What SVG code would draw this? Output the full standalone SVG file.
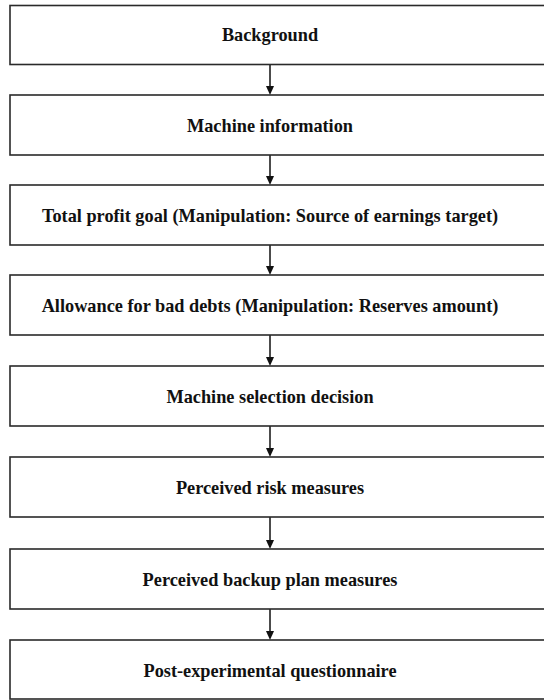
<svg xmlns="http://www.w3.org/2000/svg" width="544" height="700" viewBox="0 0 544 700">
<defs>
<style>
.box{fill:#fff;stroke:#2a2a2a;stroke-width:1.6}
.lbl{font-family:"Liberation Serif","Times New Roman",serif;font-weight:bold;font-size:18.3px;fill:#111;text-anchor:middle}
.con{stroke:#111;stroke-width:1.5;fill:none}
</style>
</defs>
<rect width="544" height="700" fill="#fff"/>
<g id="connectors">
<line class="con" x1="270" y1="64.5" x2="270" y2="88"/>
<line class="con" x1="270" y1="155" x2="270" y2="178"/>
<line class="con" x1="270" y1="245" x2="270" y2="268"/>
<line class="con" x1="270" y1="335" x2="270" y2="359"/>
<line class="con" x1="270" y1="426" x2="270" y2="450"/>
<line class="con" x1="270" y1="517" x2="270" y2="542"/>
<line class="con" x1="270" y1="609" x2="270" y2="633"/>
<path d="M266,86 L274,86 L270,95 Z" fill="#111"/>
<path d="M266,176 L274,176 L270,185 Z" fill="#111"/>
<path d="M266,266 L274,266 L270,275 Z" fill="#111"/>
<path d="M266,357 L274,357 L270,366 Z" fill="#111"/>
<path d="M266,448 L274,448 L270,457 Z" fill="#111"/>
<path d="M266,540 L274,540 L270,549 Z" fill="#111"/>
<path d="M266,631 L274,631 L270,640 Z" fill="#111"/>
</g>
<g id="n1"><rect class="box" x="10" y="5.5" width="545" height="59"/><text class="lbl" x="270" y="41">Background</text></g>
<g id="n2"><rect class="box" x="10" y="95" width="545" height="60"/><text class="lbl" x="270" y="132">Machine information</text></g>
<g id="n3"><rect class="box" x="10" y="185" width="545" height="60"/><text class="lbl" x="270" y="222">Total profit goal (Manipulation: Source of earnings target)</text></g>
<g id="n4"><rect class="box" x="10" y="275" width="545" height="60"/><text class="lbl" x="270" y="312">Allowance for bad debts (Manipulation: Reserves amount)</text></g>
<g id="n5"><rect class="box" x="10" y="366" width="545" height="60"/><text class="lbl" x="270" y="403">Machine selection decision</text></g>
<g id="n6"><rect class="box" x="10" y="457" width="545" height="60"/><text class="lbl" x="270" y="494">Perceived risk measures</text></g>
<g id="n7"><rect class="box" x="10" y="549" width="545" height="60"/><text class="lbl" x="270" y="586">Perceived backup plan measures</text></g>
<g id="n8"><rect class="box" x="10" y="640" width="545" height="59"/><text class="lbl" x="270" y="677">Post-experimental questionnaire</text></g>
</svg>
